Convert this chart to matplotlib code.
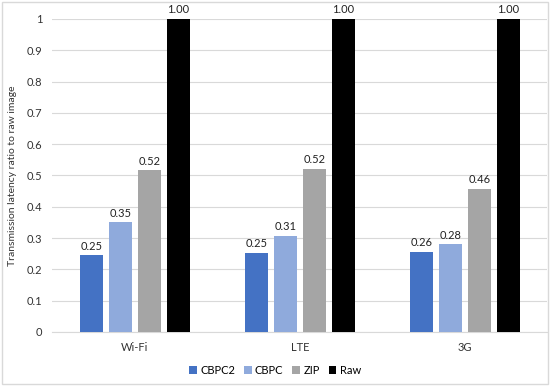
import matplotlib
matplotlib.use("Agg")
import matplotlib.pyplot as plt
import numpy as np

plt.rcParams['font.family'] = ['Lato', 'DejaVu Sans']

networks = ["Wi-Fi", "LTE", "3G"]
series_names = ["CBPC2", "CBPC", "ZIP", "Raw"]
cbpc2 = [0.245, 0.253, 0.257]
cbpc = [0.35, 0.308, 0.28]
zip_vals = [0.516, 0.52, 0.457]
raw = [1.0, 1.0, 1.0]
shown = [["0.25", "0.35", "0.52", "1.00"],
         ["0.25", "0.31", "0.52", "1.00"],
         ["0.26", "0.28", "0.46", "1.00"]]
colors = ["#4472C4", "#8FAADC", "#A5A5A5", "#000000"]

fig = plt.figure(figsize=(5.5, 3.86), dpi=100)
ax = fig.add_axes([0.095, 0.14, 0.9, 0.811])

x = np.arange(len(networks))
w = 0.14
step = 0.176
for i, vals in enumerate([cbpc2, cbpc, zip_vals, raw]):
    pos = x + (i - 1.5) * step
    ax.bar(pos, vals, width=w, color=colors[i], label=series_names[i], zorder=3)
    for j, v in enumerate(vals):
        ax.text(pos[j], v + 0.012, shown[j][i], ha="center", va="bottom",
                fontsize=8, color="#222222")

ax.set_xlim(-0.5, 2.5)
ax.set_ylim(0, 1)
ax.set_yticks(np.arange(0, 1.01, 0.1))
ax.set_yticklabels(["0", "0.1", "0.2", "0.3", "0.4", "0.5", "0.6", "0.7", "0.8", "0.9", "1"])
ax.set_xticks(x)
ax.set_xticklabels(networks)
ax.tick_params(axis="both", length=0, labelsize=8, colors="#333333")
ax.tick_params(axis="x", pad=7)
ax.tick_params(axis="y", pad=7)
ax.grid(axis="y", color="#D9D9D9", linewidth=0.8, zorder=0)
for s in ["top", "right", "left"]:
    ax.spines[s].set_visible(False)
ax.spines["bottom"].set_color("#D9D9D9")
ax.set_ylabel("Transmission latency ratio to raw image", fontsize=7.5, color="#333333", labelpad=7)

handles, labels = ax.get_legend_handles_labels()
fig.legend(handles, labels, loc="center", bbox_to_anchor=(0.5, 0.041),
           ncol=4, frameon=False, fontsize=8, handlelength=0.7, handleheight=0.7,
           handletextpad=0.3, columnspacing=0.8)

fig.patches.append(plt.Rectangle((0.003, 0.005), 0.994, 0.99, transform=fig.transFigure,
                                 fill=False, edgecolor="#D9D9D9", linewidth=1))

fig.savefig("out.png", dpi=100)
